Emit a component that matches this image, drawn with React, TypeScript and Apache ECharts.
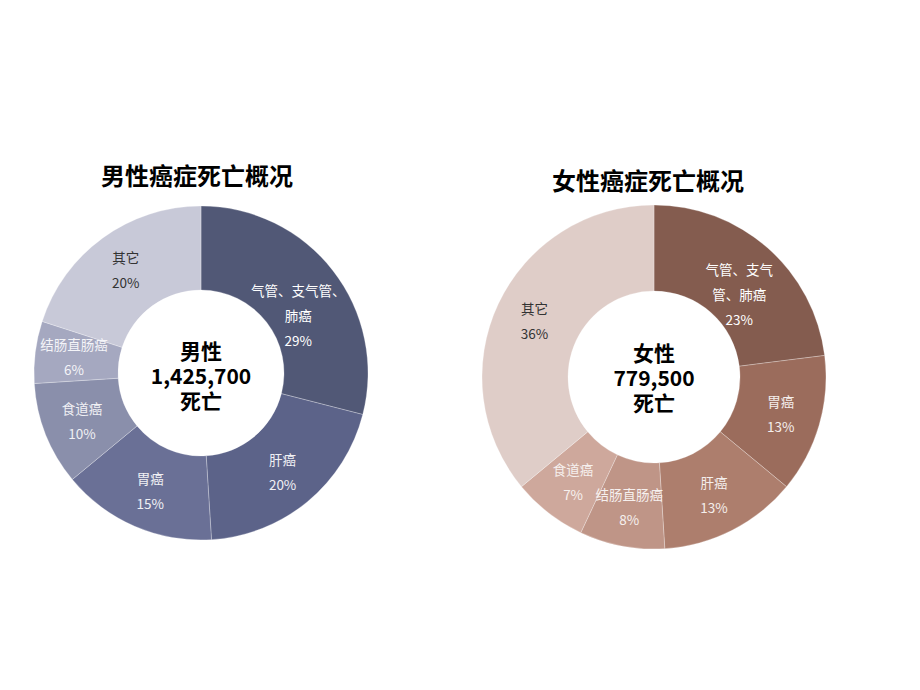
import React, { useEffect, useRef } from "react";
import * as echarts from "echarts";

const maleCategories = ["气管、支气管、\n肺癌", "肝癌", "胃癌", "食道癌", "结肠直肠癌", "其它"];
const maleValues = [29, 20, 15, 10, 6, 20];
const femaleCategories = ["气管、支气\n管、肺癌", "胃癌", "肝癌", "结肠直肠癌", "食道癌", "其它"];
const femaleValues = [23, 13, 13, 8, 7, 36];

const maleTitle = "男性癌症死亡概况";
const femaleTitle = "女性癌症死亡概况";
const maleCenterLines = ["男性", "1,425,700", "死亡"];
const femaleCenterLines = ["女性", "779,500", "死亡"];

const maleColors = ["#515876", "#5c6389", "#6a7096", "#8a8fab", "#a5a8c0", "#c8c9d8"];
const femaleColors = ["#845c4f", "#9b6c5c", "#ad7e6d", "#bf9587", "#cea89c", "#dfcdc8"];
const maleLabelColors = ["#ffffff", "#f0f0f4", "#f0f0f4", "#f0f0f4", "#f4f4f8", "#333333"];
const femaleLabelColors = ["#ffffff", "#f4eeec", "#f4eeec", "#f6f0ee", "#f6f0ee", "#333333"];

const FONT = "'Noto Sans CJK SC', 'Noto Sans', sans-serif";

function buildData(cats: string[], vals: number[], colors: string[], labelColors: string[], firstOffset: number[]) {
  return cats.map((c, i) => ({
    name: c,
    value: vals[i],
    itemStyle: { color: colors[i] },
    label: {
      color: labelColors[i],
      ...(i === 0 ? { offset: firstOffset } : {}),
    },
  }));
}

function centerTexts(lines: string[], cx: number, cy: number) {
  return lines.map((t, i) => ({
    type: "text",
    x: cx,
    y: cy + (i - 1) * 25,
    style: {
      text: t,
      fontSize: 21,
      fontWeight: "bold",
      fill: "#000",
      fontFamily: FONT,
      textAlign: "center",
      textVerticalAlign: "middle",
    },
  }));
}

export default function App() {
  const ref = useRef<HTMLDivElement>(null);
  useEffect(() => {
    if (!ref.current) return;
    const chart = echarts.init(ref.current, null, { renderer: "svg" });
    const labelBase = {
      show: true,
      position: "inside",
      fontSize: 13.5,
      lineHeight: 25,
      fontFamily: FONT,
      formatter: (p: any) => `${p.name}\n${p.value}%`,
    };
    chart.setOption({
      animation: false,
      backgroundColor: "#ffffff",
      title: [
        {
          text: maleTitle,
          left: 192,
          top: 157,
          textAlign: "center",
          textStyle: { fontSize: 24, fontWeight: "bold", color: "#000", fontFamily: FONT },
        },
        {
          text: femaleTitle,
          left: 643,
          top: 162,
          textAlign: "center",
          textStyle: { fontSize: 24, fontWeight: "bold", color: "#000", fontFamily: FONT },
        },
      ],
      graphic: [
        ...centerTexts(maleCenterLines, 201, 375),
        ...centerTexts(femaleCenterLines, 654, 377),
      ],
      series: [
        {
          type: "pie",
          center: [201, 373],
          radius: [83, 167],
          startAngle: 90,
          clockwise: true,
          silent: true,
          label: labelBase,
          labelLine: { show: false },
          itemStyle: { borderColor: "rgba(255,255,255,0.45)", borderWidth: 0.6 },
          data: buildData(maleCategories, maleValues, maleColors, maleLabelColors, [-4, 20]),
        },
        {
          type: "pie",
          center: [654, 377],
          radius: [86, 172],
          startAngle: 90,
          clockwise: true,
          silent: true,
          label: labelBase,
          labelLine: { show: false },
          itemStyle: { borderColor: "rgba(255,255,255,0.45)", borderWidth: 0.6 },
          data: buildData(femaleCategories, femaleValues, femaleColors, femaleLabelColors, [-2, 16]),
        },
      ],
    });
    return () => chart.dispose();
  }, []);
  return (
    <div
      ref={ref}
      style={{ position: "absolute", left: 0, top: 0, width: 920, height: 690 }}
    />
  );
}
